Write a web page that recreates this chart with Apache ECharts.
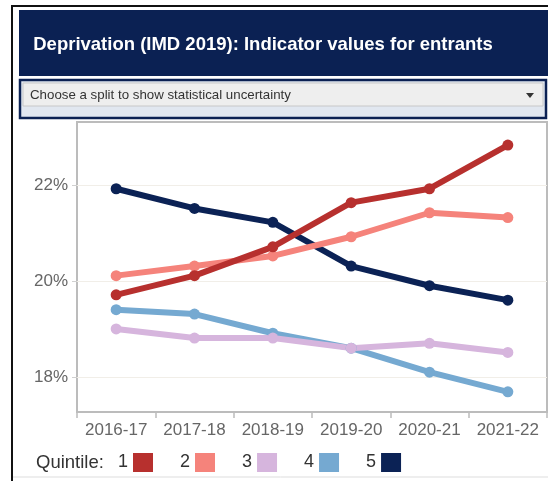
<!DOCTYPE html>
<html><head><meta charset="utf-8">
<script src="https://cdn.jsdelivr.net/npm/echarts@6/dist/echarts.min.js"></script>
<style>html,body{margin:0;padding:0;background:#fff}#c{width:548px;height:481px}</style>
</head><body><div id="c"></div>
<script>
const categories = ['2016-17','2017-18','2018-19','2019-20','2020-21','2021-22'];
const quintile1 = [19.71, 20.11, 20.71, 21.63, 21.92, 22.83];
const quintile2 = [20.11, 20.31, 20.52, 20.92, 21.42, 21.32];
const quintile3 = [19.00, 18.81, 18.81, 18.60, 18.70, 18.51];
const quintile4 = [19.40, 19.31, 18.91, 18.60, 18.10, 17.69];
const quintile5 = [21.92, 21.51, 21.22, 20.31, 19.90, 19.60];
const yTicks = [18, 20, 22];
const titleText = 'Deprivation (IMD 2019): Indicator values for entrants';
const dropdownText = 'Choose a split to show statistical uncertainty';

const colors = {'1':'#b7302e','2':'#f5837b','3':'#d6b5dd','4':'#75a9d1','5':'#0b2255'};
const seriesDefs = [['5',quintile5],['4',quintile4],['3',quintile3],['2',quintile2],['1',quintile1]];
const font = 'Arial, "Liberation Sans", sans-serif';

const chart = echarts.init(document.getElementById('c'), null, {renderer:'canvas'});
chart.setOption({
  animation:false,
  textStyle:{fontFamily:font},
  grid:{left:77,top:122,right:1,bottom:69,show:true,borderColor:'#bcbcbc',borderWidth:2,backgroundColor:'#fff'},
  xAxis:{type:'category',data:categories,boundaryGap:true,
    axisLine:{show:true,lineStyle:{color:'#bcbcbc',width:2}},
    axisTick:{show:true,length:6,interval:0,lineStyle:{color:'#bcbcbc',width:1.5}},
    axisLabel:{color:'#666',fontSize:17,margin:10,interval:0,fontFamily:font}},
  yAxis:{type:'value',min:17.27,max:23.31,
    axisLine:{show:false},
    axisTick:{show:true,length:5,customValues:yTicks,lineStyle:{color:'#d0d0d0',width:1}},
    axisLabel:{color:'#666',fontSize:17,margin:9,fontFamily:font,customValues:yTicks,
      formatter:v=>v+'%'},
    splitLine:{show:true,lineStyle:{color:'#f1eee8',width:1}}},
  legend:{data:['1','2','3','4','5'],left:118,top:453,padding:0,align:'right',itemWidth:20,itemHeight:19,itemGap:27,
    icon:'rect',textStyle:{color:'#333',fontSize:18,fontFamily:font},itemStyle:{borderWidth:0}},
  series:seriesDefs.map(([n,d])=>({name:n,type:'line',data:d,color:colors[n],
    lineStyle:{width:6,color:colors[n]},itemStyle:{color:colors[n]},symbol:'circle',symbolSize:11,showSymbol:true})),
  graphic:[
    {type:'rect',shape:{x:12,y:6,width:540,height:480},style:{fill:'none',stroke:'#111',lineWidth:2},silent:true},
    {type:'rect',shape:{x:19,y:10,width:532,height:66},style:{fill:'#0b2153'},silent:true},
    {type:'text',x:263,y:45,style:{text:titleText,fill:'#fff',font:'bold 18.5px '+font,align:'center',verticalAlign:'middle'},silent:true},
    {type:'rect',shape:{x:20,y:80,width:526,height:38},style:{fill:'#e1e7f0',stroke:'#0b2153',lineWidth:2.5},silent:true},
    {type:'rect',shape:{x:23,y:83,width:520,height:23},style:{fill:'#eeeeee',stroke:'#c8c8c8',lineWidth:1},silent:true},
    {type:'text',x:30,y:95,style:{text:dropdownText,fill:'#333',font:'13.3px '+font,verticalAlign:'middle'},silent:true},
    {type:'polygon',shape:{points:[[526,93],[534,93],[530,98]]},style:{fill:'#333'},silent:true},
    {type:'text',x:36,y:463,style:{text:'Quintile:',fill:'#333',font:'18.5px '+font,verticalAlign:'middle'},silent:true},
    {type:'line',shape:{x1:13,y1:477,x2:548,y2:477},style:{stroke:'#ddd',lineWidth:1},silent:true}
  ]
});
</script></body></html>
